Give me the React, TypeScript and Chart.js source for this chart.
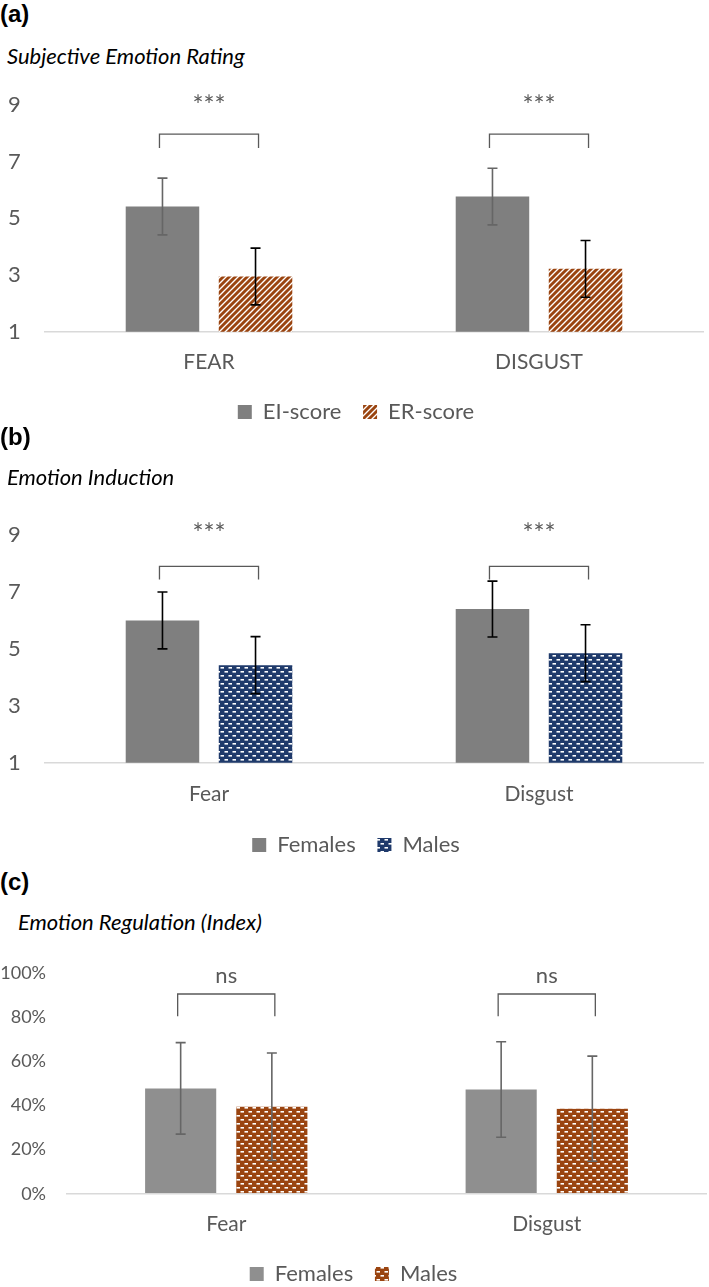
import React, { useEffect, useRef } from 'react';
import { Chart, registerables } from 'chart.js';

Chart.register(...registerables);

const FONT = 'Lato, "Open Sans", sans-serif';
const TEXT_GRAY = '#595959';

// ---------- Panel (a): Subjective Emotion Rating ----------
const catsA = ['FEAR', 'DISGUST'];
const eiScore = [5.42, 5.77];
const eiErr = [1.0, 1.0];
const erScore = [2.95, 3.22];
const erErr = [1.0, 1.0];
const ticksA = [1, 3, 5, 7, 9];
const sigA = ['***', '***'];

// ---------- Panel (b): Emotion Induction ----------
const catsB = ['Fear', 'Disgust'];
const femInd = [6.0, 6.4];
const femIndErr = [1.0, 0.98];
const maleInd = [4.43, 4.85];
const maleIndErr = [1.0, 1.0];
const ticksB = [1, 3, 5, 7, 9];
const sigB = ['***', '***'];

// ---------- Panel (c): Emotion Regulation (Index) ----------
const catsC = ['Fear', 'Disgust'];
const femReg = [0.477, 0.472];
const femRegErr = [0.207, 0.216];
const maleReg = [0.394, 0.385];
const maleRegErr = [0.243, 0.238];
const ticksC = [0, 0.2, 0.4, 0.6, 0.8, 1.0];
const sigC = ['ns', 'ns'];

function stripes(color: string) {
  const c = document.createElement('canvas');
  c.width = 6; c.height = 6;
  const g = c.getContext('2d')!;
  g.fillStyle = '#fff'; g.fillRect(0, 0, 6, 6);
  g.strokeStyle = color; g.lineWidth = 2.9; g.lineCap = 'square';
  g.beginPath();
  g.moveTo(-3, 9); g.lineTo(9, -3);
  g.moveTo(-3, 3); g.lineTo(3, -3);
  g.moveTo(3, 9); g.lineTo(9, 3);
  g.stroke();
  return g.createPattern(c, 'repeat')!;
}

function bricks(color: string) {
  const c = document.createElement('canvas');
  c.width = 8; c.height = 8;
  const g = c.getContext('2d')!;
  g.fillStyle = color; g.fillRect(0, 0, 8, 8);
  g.fillStyle = '#fff';
  g.fillRect(0.5, 1, 3.5, 1.6);
  g.fillRect(4.5, 5, 3.5, 1.6);
  return g.createPattern(c, 'repeat')!;
}

function makeErrorBars(errors: number[][], colors: string[], width = 1.6) {
  return {
    id: 'errorBars',
    afterDatasetsDraw(chart: any) {
      const { ctx } = chart;
      const y = chart.scales.y;
      errors.forEach((errs, di) => {
        const meta = chart.getDatasetMeta(di);
        const vals = chart.data.datasets[di].data as number[];
        ctx.save();
        ctx.strokeStyle = colors[di];
        ctx.lineWidth = width;
        meta.data.forEach((bar: any, i: number) => {
          const v = vals[i];
          const e = errs[i];
          const t = y.getPixelForValue(v + e);
          const b = y.getPixelForValue(v - e);
          const x = bar.x;
          ctx.beginPath();
          ctx.moveTo(x, t); ctx.lineTo(x, b);
          ctx.moveTo(x - 5, t); ctx.lineTo(x + 5, t);
          ctx.moveTo(x - 5, b); ctx.lineTo(x + 5, b);
          ctx.stroke();
        });
        ctx.restore();
      });
    },
  };
}

function makeBrackets(labels: string[], topVal: number, legVal: number, textVal: number, fontSize: number) {
  return {
    id: 'brackets',
    afterDraw(chart: any) {
      const { ctx } = chart;
      const y = chart.scales.y;
      const m0 = chart.getDatasetMeta(0);
      const m1 = chart.getDatasetMeta(1);
      const yt = y.getPixelForValue(topVal);
      const yl = y.getPixelForValue(legVal);
      const ytx = y.getPixelForValue(textVal);
      labels.forEach((lab, i) => {
        const x1 = m0.data[i].x - 3;
        const x2 = m1.data[i].x + 3;
        ctx.save();
        ctx.strokeStyle = TEXT_GRAY;
        ctx.lineWidth = 1.3;
        ctx.beginPath();
        ctx.moveTo(x1, yl); ctx.lineTo(x1, yt); ctx.lineTo(x2, yt); ctx.lineTo(x2, yl);
        ctx.stroke();
        ctx.fillStyle = TEXT_GRAY;
        ctx.font = `${fontSize}px ${FONT}`;
        ctx.textAlign = 'center';
        ctx.textBaseline = 'alphabetic';
        ctx.fillText(lab, (x1 + x2) / 2, ytx);
        ctx.restore();
      });
    },
  };
}

function legendLabels(chart: any) {
  const items = (Chart as any).defaults.plugins.legend.labels.generateLabels(chart);
  items.forEach((it: any, i: number) => {
    if (i < items.length - 1) it.text = it.text + '\u2002\u2009';
  });
  return items;
}

function baseOptions(opts: {
  ticks: number[]; fmt: (v: number) => string; tickSize: number; tickPad: number; cross: string;
  yWidth: number; padTop: number; padLeft: number; padRight: number; xPad: number;
}) {
  const min = opts.ticks[0];
  const max = opts.ticks[opts.ticks.length - 1];
  return {
    responsive: false,
    animation: false,
    layout: { padding: { top: opts.padTop, right: opts.padRight, left: opts.padLeft, bottom: 0 } },
    scales: {
      x: {
        grid: { display: false, drawTicks: false },
        border: { display: false },
        ticks: { color: TEXT_GRAY, font: { family: FONT, size: 21 }, padding: opts.xPad },
      },
      y: {
        min, max,
        afterBuildTicks: (s: any) => { s.ticks = opts.ticks.map((v) => ({ value: v })); },
        afterFit: (s: any) => { s.width = opts.yWidth; },
        ticks: {
          color: TEXT_GRAY,
          font: { family: FONT, size: opts.tickSize },
          padding: opts.tickPad,
          crossAlign: opts.cross,
          callback: (v: any) => opts.fmt(Number(v)),
        },
        grid: {
          drawTicks: false,
          lineWidth: 1.5,
          color: (c: any) => (c.tick && Math.abs(c.tick.value - min) < 1e-9 ? '#d9d9d9' : 'rgba(0,0,0,0)'),
        },
        border: { display: false },
      },
    },
    plugins: {
      legend: {
        position: 'bottom',
        labels: {
          boxWidth: 14, boxHeight: 14, padding: 8,
          color: TEXT_GRAY, font: { family: FONT, size: 22 },
          generateLabels: legendLabels,
        },
      },
      tooltip: { enabled: false },
      title: { display: false },
    },
  };
}

function useChart(ref: React.RefObject<HTMLCanvasElement>, build: () => any) {
  useEffect(() => {
    if (!ref.current) return;
    const chart = new Chart(ref.current, build());
    return () => chart.destroy();
  }, []);
}

const CAT_PCT = 0.564;
const BAR_PCT = 0.79;

export default function App() {
  const refA = useRef<HTMLCanvasElement>(null);
  const refB = useRef<HTMLCanvasElement>(null);
  const refC = useRef<HTMLCanvasElement>(null);

  useChart(refA, () => ({
    type: 'bar',
    data: {
      labels: catsA,
      datasets: [
        { label: 'EI-score', data: eiScore, backgroundColor: '#7f7f7f', borderWidth: 0, categoryPercentage: CAT_PCT, barPercentage: BAR_PCT },
        { label: 'ER-score', data: erScore, backgroundColor: stripes('#9a4410'), borderWidth: 0, categoryPercentage: CAT_PCT, barPercentage: BAR_PCT },
      ],
    },
    options: baseOptions({ ticks: ticksA, fmt: (v) => String(v), tickSize: 22, tickPad: 0, cross: 'far', yWidth: 36, padTop: 25, padLeft: 8, padRight: 5, xPad: 18 }),
    plugins: [makeErrorBars([eiErr, erErr], ['#666666', '#000000']), makeBrackets(sigA, 7.97, 7.48, 8.65, 26)],
  }));

  useChart(refB, () => ({
    type: 'bar',
    data: {
      labels: catsB,
      datasets: [
        { label: 'Females', data: femInd, backgroundColor: '#7f7f7f', borderWidth: 0, categoryPercentage: CAT_PCT, barPercentage: BAR_PCT },
        { label: 'Males', data: maleInd, backgroundColor: bricks('#1f3a6b'), borderWidth: 0, categoryPercentage: CAT_PCT, barPercentage: BAR_PCT },
      ],
    },
    options: baseOptions({ ticks: ticksB, fmt: (v) => String(v), tickSize: 22, tickPad: 0, cross: 'far', yWidth: 36, padTop: 25, padLeft: 8, padRight: 5, xPad: 19 }),
    plugins: [makeErrorBars([femIndErr, maleIndErr], ['#000000', '#000000']), makeBrackets(sigB, 7.9, 7.44, 8.71, 26)],
  }));

  useChart(refC, () => ({
    type: 'bar',
    data: {
      labels: catsC,
      datasets: [
        { label: 'Females', data: femReg, backgroundColor: '#8f8f8f', borderWidth: 0, categoryPercentage: 0.569, barPercentage: 0.78 },
        { label: 'Males', data: maleReg, backgroundColor: bricks('#9a4410'), borderWidth: 0, categoryPercentage: 0.569, barPercentage: 0.78 },
      ],
    },
    options: baseOptions({ ticks: ticksC, fmt: (v) => Math.round(v * 100) + '%', tickSize: 18, tickPad: 20, cross: 'near', yWidth: 66, padTop: 0, padLeft: 0, padRight: 2, xPad: 18 }),
    plugins: [makeErrorBars([femRegErr, maleRegErr], ['#666666', '#666666']), makeBrackets(sigC, 0.904, 0.803, 0.956, 22)],
  }));

  const label = (top: number): React.CSSProperties => ({
    position: 'absolute', left: 0, top, fontFamily: '"Liberation Sans", Arial, sans-serif',
    fontWeight: 'bold', fontSize: 24, lineHeight: '26px', color: '#000',
  });
  const title = (left: number, top: number): React.CSSProperties => ({
    position: 'absolute', left, top, fontFamily: FONT, fontStyle: 'italic',
    fontSize: 22, lineHeight: '26px', color: '#000', whiteSpace: 'nowrap',
  });
  const cv = (top: number): React.CSSProperties => ({ position: 'absolute', left: 0, top, display: 'block' });

  return (
    <div style={{ position: 'absolute', left: 0, top: 0, width: 709, height: 1287, overflow: 'hidden', background: '#fff' }}>
      <div style={label(1)}>(a)</div>
      <div style={title(7, 43)}>Subjective Emotion Rating</div>
      <canvas ref={refA} width={709} height={353} style={cv(80)} />

      <div style={label(424)}>(b)</div>
      <div style={title(7, 464)}>Emotion Induction</div>
      <canvas ref={refB} width={709} height={356} style={cv(510)} />

      <div style={label(869)}>(c)</div>
      <div style={title(18, 909)}>Emotion Regulation (Index)</div>
      <canvas ref={refC} width={709} height={353} style={cv(942)} />
    </div>
  );
}
